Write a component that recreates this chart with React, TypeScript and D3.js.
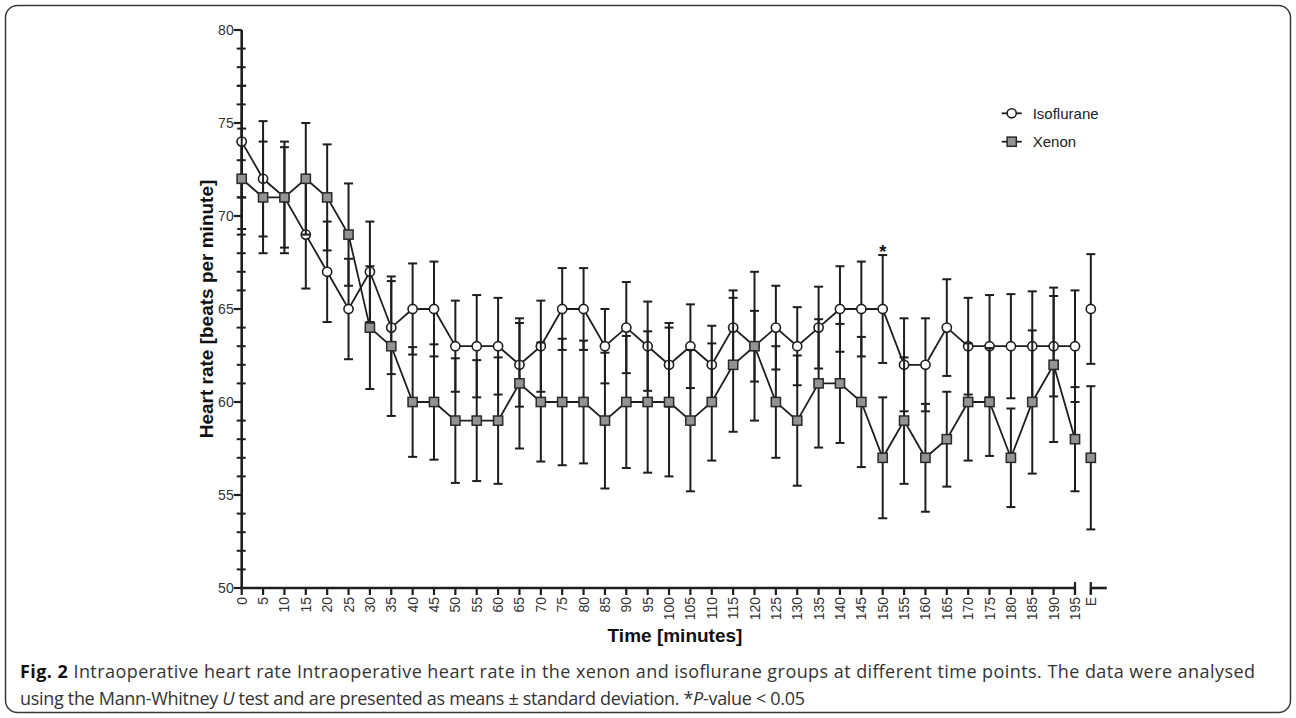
import React from "react";
import * as d3 from "d3";

// ---------- data ----------
const timeLabels = ["0","5","10","15","20","25","30","35","40","45","50","55","60","65","70","75","80","85","90","95","100","105","110","115","120","125","130","135","140","145","150","155","160","165","170","175","180","185","190","195","E"];
// position of each time point on the axis (E sits just after the axis break)
const timePos = [0,5,10,15,20,25,30,35,40,45,50,55,60,65,70,75,80,85,90,95,100,105,110,115,120,125,130,135,140,145,150,155,160,165,170,175,180,185,190,195,198.7];

const isoMean = [74,72,71,69,67,65,67,64,65,65,63,63,63,62,63,65,65,63,64,63,62,63,62,64,63,64,63,64,65,65,65,62,62,64,63,63,63,63,63,63,65];
const isoSD = [3.0,3.1,2.7,2.9,2.7,2.7,2.7,2.5,2.45,2.55,2.45,2.75,2.6,2.25,2.45,2.2,2.2,2.0,2.45,2.4,2.25,2.25,2.1,2.0,1.9,2.25,2.1,2.2,2.3,2.55,2.9,2.5,2.5,2.6,2.6,2.75,2.8,2.95,2.7,3.0,2.95];

const xenMean = [72,71,71,72,71,69,64,63,60,60,59,59,59,61,60,60,60,59,60,60,60,59,60,62,63,60,59,61,61,60,57,59,57,58,60,60,57,60,62,58,57];
const xenSD = [2.7,3.0,3.0,3.0,2.85,2.75,3.3,3.75,2.95,3.1,3.35,3.25,3.4,3.5,3.2,3.4,3.3,3.65,3.55,3.8,4.0,3.8,3.15,3.6,4.0,3.0,3.5,3.45,3.2,3.5,3.25,3.4,2.9,2.55,3.15,2.9,2.65,3.85,4.15,2.8,3.85];

const yTicksMajor = [50,55,60,65,70,75,80];
const yTicksMinor = [51,52,53,54,56,57,58,59,61,62,63,64,66,67,68,69,71,72,73,74,76,77,78,79];
const seriesNames = ["Isoflurane","Xenon"];
const significantIndex = [30]; // 150 min, *P < 0.05

// ---------- layout ----------
const W = 1296, H = 718;
const X_LEFT = 241.7, X_RIGHT = 1075;
const Y_TOP = 30, Y_BOT = 588;
const INK = "#1e1e1e";

export default function App() {
  const x = d3.scaleLinear().domain([0, 195]).range([X_LEFT, X_RIGHT]);
  const y = d3.scaleLinear().domain([50, 80]).range([Y_BOT, Y_TOP]);
  const nMain = timePos.length - 1; // connected points (E is separate)

  const line = d3.line<number>().x((_, i) => x(timePos[i])).y((d) => y(d));

  const errorBars = (mean: number[], sd: number[], key: string) =>
    mean.map((m, i) => {
      const cx = x(timePos[i]);
      const y1 = y(m + sd[i]);
      const y2 = y(m - sd[i]);
      return (
        <g key={key + i} stroke={INK} strokeWidth={2}>
          <line x1={cx} x2={cx} y1={y1} y2={y2} />
          <line x1={cx - 4.5} x2={cx + 4.5} y1={y1} y2={y1} />
          <line x1={cx - 4.5} x2={cx + 4.5} y1={y2} y2={y2} />
        </g>
      );
    });

  const xE = x(timePos[timePos.length - 1]);
  const legX = 1011.7;
  const legY = [113.3, 141.7];

  return (
    <div style={{ position: "absolute", left: 0, top: 0 }}>
      <svg width={W} height={H} style={{ display: "block", background: "#fff" }}>
        {/* frame */}
        <rect x={5.5} y={5.5} width={W - 11} height={H - 11} rx={12} ry={12} fill="none" stroke="#3a3a3a" strokeWidth={1.5} />

        {/* y axis */}
        <g fontFamily="'Liberation Sans', Arial, sans-serif" fontSize={14} fill="#333">
          <line x1={X_LEFT} x2={X_LEFT} y1={y(80)} y2={y(50) + 1.2} stroke={INK} strokeWidth={2.6} />
          {yTicksMajor.map((t) => (
            <g key={"ym" + t}>
              <line x1={X_LEFT - 8} x2={X_LEFT} y1={y(t)} y2={y(t)} stroke={INK} strokeWidth={2.2} />
              <text x={X_LEFT - 8} y={y(t) + 5} textAnchor="end">{t}</text>
            </g>
          ))}
          {yTicksMinor.map((t) => (
            <line key={"yn" + t} x1={X_LEFT - 5} x2={X_LEFT + 4} y1={y(t)} y2={y(t)} stroke={INK} strokeWidth={2} />
          ))}
        </g>

        {/* x axis */}
        <g fontFamily="'Liberation Sans', Arial, sans-serif" fontSize={14} fill="#333">
          <line x1={X_LEFT - 1.3} x2={x(195)} y1={Y_BOT} y2={Y_BOT} stroke={INK} strokeWidth={2.6} />
          <line x1={x(195)} x2={x(195)} y1={Y_BOT - 6} y2={Y_BOT + 6} stroke={INK} strokeWidth={2.2} />
          <line x1={xE} x2={xE + 16} y1={Y_BOT} y2={Y_BOT} stroke={INK} strokeWidth={2.6} />
          <line x1={xE} x2={xE} y1={Y_BOT - 6} y2={Y_BOT + 6} stroke={INK} strokeWidth={2.2} />
          {timeLabels.map((lab, i) => {
            const tx = x(timePos[i]);
            return (
              <g key={"xt" + i}>
                <line x1={tx} x2={tx} y1={Y_BOT} y2={Y_BOT + 7} stroke={INK} strokeWidth={2.2} />
                <text transform={`translate(${tx + 5},${Y_BOT + 9}) rotate(-90)`} textAnchor="end">{lab}</text>
              </g>
            );
          })}
        </g>

        {/* axis titles */}
        <text transform={`translate(213,${(Y_TOP + Y_BOT) / 2}) rotate(-90)`} textAnchor="middle"
          fontFamily="'Liberation Sans', Arial, sans-serif" fontWeight="bold" fontSize={19} fill="#111">
          Heart rate [beats per minute]
        </text>
        <text x={675} y={642} textAnchor="middle"
          fontFamily="'Liberation Sans', Arial, sans-serif" fontWeight="bold" fontSize={19} fill="#111">
          Time [minutes]
        </text>

        {/* isoflurane */}
        {errorBars(isoMean, isoSD, "ie")}
        <path d={line(isoMean.slice(0, nMain)) || ""} fill="none" stroke={INK} strokeWidth={1.8} />
        {isoMean.map((m, i) => (
          <circle key={"ic" + i} cx={x(timePos[i])} cy={y(m)} r={4.6} fill="#fff" stroke={INK} strokeWidth={1.6} />
        ))}

        {/* xenon */}
        {errorBars(xenMean, xenSD, "xe")}
        <path d={line(xenMean.slice(0, nMain)) || ""} fill="none" stroke={INK} strokeWidth={1.8} />
        {xenMean.map((m, i) => (
          <rect key={"xs" + i} x={x(timePos[i]) - 4.6} y={y(m) - 4.6} width={9.2} height={9.2} fill="#939393" stroke="#2a2a2a" strokeWidth={1.5} />
        ))}

        {/* significance */}
        {significantIndex.map((i) => (
          <text key={"sig" + i} x={x(timePos[i])} y={y(isoMean[i] + isoSD[i]) + 3} textAnchor="middle"
            fontFamily="'Liberation Sans', Arial, sans-serif" fontWeight="bold" fontSize={18} fill="#111">*</text>
        ))}

        {/* legend */}
        <g fontFamily="'Liberation Sans', Arial, sans-serif" fontSize={15} fill="#222">
          <line x1={legX - 10} x2={legX + 10} y1={legY[0]} y2={legY[0]} stroke={INK} strokeWidth={1.8} />
          <circle cx={legX} cy={legY[0]} r={4.6} fill="#fff" stroke={INK} strokeWidth={1.6} />
          <text x={legX + 21} y={legY[0] + 5.5}>{seriesNames[0]}</text>
          <line x1={legX - 10} x2={legX + 10} y1={legY[1]} y2={legY[1]} stroke={INK} strokeWidth={1.8} />
          <rect x={legX - 4.6} y={legY[1] - 4.6} width={9.2} height={9.2} fill="#939393" stroke="#2a2a2a" strokeWidth={1.5} />
          <text x={legX + 21} y={legY[1] + 5.5}>{seriesNames[1]}</text>
        </g>

        {/* caption */}
        <g fontFamily="'Open Sans', 'Noto Sans', sans-serif" fontSize={18} fill="#333">
          <text x={20} y={678} textLength={1235} lengthAdjust="spacing">
            <tspan fontWeight="bold" fill="#111">Fig. 2</tspan>
            <tspan> Intraoperative heart rate Intraoperative heart rate in the xenon and isoflurane groups at different time points. The data were analysed</tspan>
          </text>
          <text x={20} y={705} textLength={785} lengthAdjust="spacing">
            <tspan>using the Mann-Whitney </tspan>
            <tspan fontStyle="italic">U</tspan>
            <tspan> test and are presented as means ± standard deviation. *</tspan>
            <tspan fontStyle="italic">P</tspan>
            <tspan>-value &lt; 0.05</tspan>
          </text>
        </g>
      </svg>
    </div>
  );
}
